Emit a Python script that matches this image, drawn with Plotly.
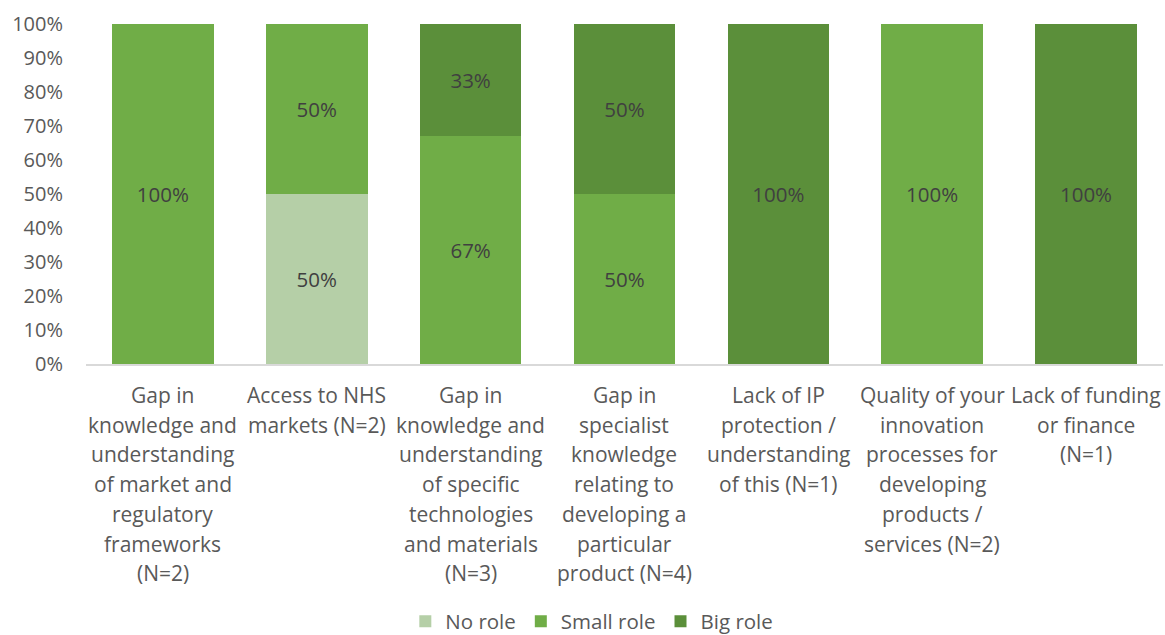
import plotly.graph_objects as go

# Barrier categories, each stored as its wrapped label lines
label_lines = [
    ["Gap in", "knowledge and", "understanding", "of market and", "regulatory", "frameworks", "(N=2)"],
    ["Access to NHS", "markets (N=2)"],
    ["Gap in", "knowledge and", "understanding", "of specific", "technologies", "and materials", "(N=3)"],
    ["Gap in", "specialist", "knowledge", "relating to", "developing a", "particular", "product (N=4)"],
    ["Lack of IP", "protection /", "understanding", "of this (N=1)"],
    ["Quality of your", "innovation", "processes for", "developing", "products /", "services (N=2)"],
    ["Lack of funding", "or finance", "(N=1)"],
]
categories = [" ".join(lines) for lines in label_lines]

# Share of responses (%) per role
no_role = [0, 50, 0, 0, 0, 0, 0]
small_role = [100, 50, 67, 50, 0, 100, 0]
big_role = [0, 0, 33, 50, 100, 0, 100]

y_ticks = [0, 10, 20, 30, 40, 50, 60, 70, 80, 90, 100]

FONT = "Open Sans"
series = [
    ("No role", no_role, "#B5CFA7"),
    ("Small role", small_role, "#70AD47"),
    ("Big role", big_role, "#5B8F3A"),
]

fig = go.Figure()
for name, vals, color in series:
    fig.add_trace(go.Bar(
        name=name,
        x=categories,
        y=vals,
        marker=dict(color=color, line=dict(width=0)),
        text=[f"{v}%" if v else "" for v in vals],
        textposition="inside",
        insidetextanchor="middle",
        textangle=0,
        textfont=dict(family=FONT, size=20.5, color="#404040"),
        constraintext="none",
    ))

# Wrapped category labels below the axis, one line per annotation
annotations = []
for cat, lines in zip(categories, label_lines):
    for i, line in enumerate(lines):
        annotations.append(dict(
            x=cat, xref="x", y=0, yref="paper",
            text=line, showarrow=False,
            xanchor="center", yanchor="middle",
            yshift=-(31 + 29.7 * i),
            font=dict(family=FONT, size=21, color="#595959"),
        ))

fig.update_layout(
    barmode="stack",
    bargap=0.34,
    width=1165,
    height=635,
    margin=dict(l=86, r=2, t=24, b=271),
    paper_bgcolor="white",
    plot_bgcolor="white",
    showlegend=True,
    legend=dict(
        orientation="h",
        xref="container", x=0.508, xanchor="center",
        yref="container", y=0.0215, yanchor="middle",
        font=dict(family=FONT, size=20.5, color="#595959"),
        traceorder="normal",
        itemclick=False,
    ),
    annotations=annotations,
    xaxis=dict(
        type="category",
        showticklabels=False,
        showline=True,
        linecolor="#D9D9D9",
        linewidth=1.5,
        ticks="",
        showgrid=False,
        zeroline=False,
    ),
    yaxis=dict(
        range=[0, 100],
        tickvals=y_ticks,
        ticktext=[f"{t}%" for t in y_ticks],
        tickfont=dict(family=FONT, size=20, color="#595959"),
        showgrid=False,
        zeroline=False,
        showline=False,
        ticks="",
        ticklabelstandoff=22,
    ),
)

fig.write_html("out.html")
